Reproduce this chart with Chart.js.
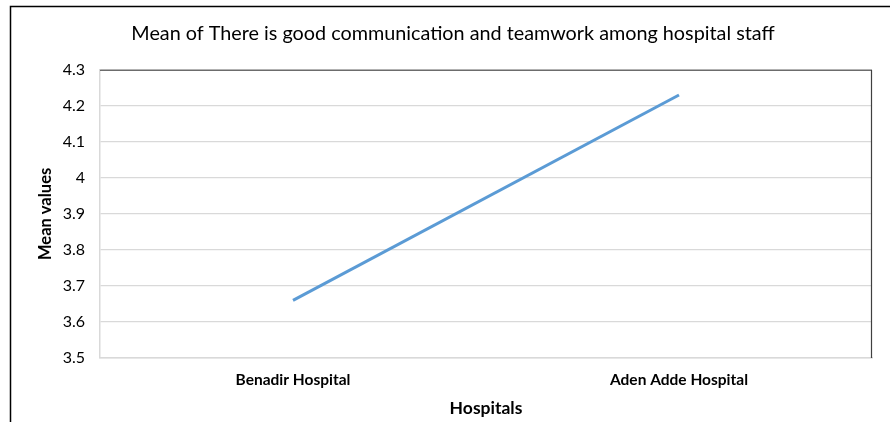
<!DOCTYPE html>
<html>
<head>
<meta charset="utf-8">
<script src="https://cdn.jsdelivr.net/npm/chart.js@4"></script>
<style>
  html, body { margin: 0; padding: 0; background: #fff; }
  #wrap { width: 890px; height: 422px; position: relative; }
</style>
</head>
<body>
<div id="wrap"><canvas id="meanChart"></canvas></div>
<script>
// Données
const hospitals = ['Benadir Hospital', 'Aden Adde Hospital'];
const meanValues = [3.66, 4.23];
const yMin = 3.5;
const yMax = 4.3;
const yStep = 0.1;

const fontFamily = 'Lato, "Open Sans", sans-serif';

// Cadres : bord extérieur + haut/droite de la zone de tracé
const framePlugin = {
    id: 'frame',
    beforeDraw(chart) {
        const c = chart.ctx;
        c.save();
        c.strokeStyle = '#000';
        c.lineWidth = 1.5;
        c.beginPath();
        c.moveTo(10.5, 422);
        c.lineTo(10.5, 6.5);
        c.lineTo(890, 6.5);
        c.stroke();
        c.restore();
    },
    afterDatasetsDraw(chart) {
        const a = chart.chartArea;
        const c = chart.ctx;
        c.save();
        c.strokeStyle = '#404040';
        c.lineWidth = 1.2;
        c.beginPath();
        c.moveTo(a.left, a.top + 0.5);
        c.lineTo(a.right - 0.5, a.top + 0.5);
        c.lineTo(a.right - 0.5, a.bottom);
        c.stroke();
        c.restore();
    }
};

const ctx = document.getElementById('meanChart').getContext('2d');
const meanChart = new Chart(ctx, {
    type: 'line',
    data: {
        labels: hospitals,
        datasets: [{
            label: 'Mean',
            data: meanValues,
            borderColor: '#5b9bd5',
            borderWidth: 3,
            pointRadius: 0,
            tension: 0
        }]
    },
    options: {
        responsive: true,
        maintainAspectRatio: false,
        animation: false,
        layout: { padding: { left: 34, right: 18, top: 0, bottom: 0 } },
        plugins: {
            legend: { display: false },
            tooltip: { enabled: false },
            title: {
                display: true,
                text: 'Mean of There is good communication and teamwork among hospital staff',
                color: '#000',
                font: { family: fontFamily, size: 19.8, weight: 'normal', lineHeight: 1.2 },
                padding: { top: 22, bottom: 24 }
            }
        },
        scales: {
            x: {
                offset: true,
                afterFit(scale) { scale.height = 64; },
                grid: { display: false, drawTicks: false },
                border: { display: true, color: '#d9d9d9', width: 1.5 },
                ticks: {
                    color: '#000',
                    padding: 13,
                    font: { family: fontFamily, size: 15.5, weight: 'bold' }
                },
                title: {
                    display: true,
                    text: 'Hospitals',
                    color: '#000',
                    font: { family: fontFamily, size: 17.5, weight: 'bold', lineHeight: 1.2 },
                    padding: { top: 0, bottom: 3.5 }
                }
            },
            y: {
                min: yMin,
                max: yMax,
                afterFit(scale) { scale.width = 66; },
                grid: { color: '#d9d9d9', lineWidth: 1.2, drawTicks: false },
                border: { display: true, color: '#d9d9d9', width: 1.5 },
                ticks: {
                    stepSize: yStep,
                    color: '#000',
                    padding: 15,
                    font: { family: fontFamily, size: 16 },
                    callback: v => parseFloat(v.toFixed(1)).toString()
                },
                title: {
                    display: true,
                    text: 'Mean values',
                    color: '#000',
                    font: { family: fontFamily, size: 16.5, weight: 'bold', lineHeight: 1.2 },
                    padding: { top: 2, bottom: 0 }
                }
            }
        }
    },
    plugins: [framePlugin]
});
</script>
</body>
</html>
